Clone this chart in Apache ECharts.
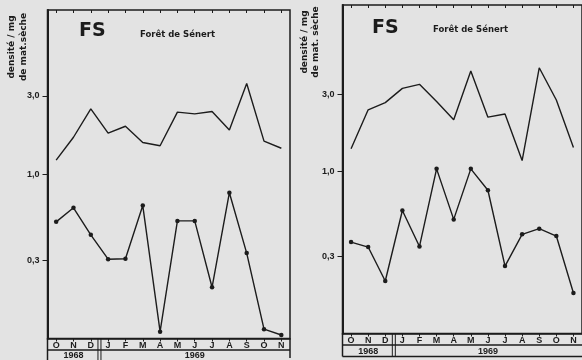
<!DOCTYPE html>
<html><head><meta charset="utf-8">
<script src="https://cdn.jsdelivr.net/npm/echarts@6/dist/echarts.min.js"></script>
<style>html,body{margin:0;padding:0;background:#e3e3e3}#c{width:582px;height:360px}</style>
</head><body><div id="c"></div>
<script>
const months = ['O','N','D','J','F','M','A','M','J','J','A','S','O','N'];
const years = ['1968', '1969'];
const yTicks = [0.3, 1, 3];
const leftUpper  = [1.22, 1.68, 2.50, 1.78, 1.96, 1.56, 1.49, 2.39, 2.33, 2.41, 1.86, 3.57, 1.59, 1.44];
const leftLower  = [0.513, 0.625, 0.428, 0.304, 0.306, 0.645, 0.110, 0.52, 0.52, 0.205, 0.772, 0.331, 0.114, 0.105];
const rightUpper = [1.385, 2.41, 2.67, 3.27, 3.46, 2.71, 2.09, 4.18, 2.17, 2.27, 1.17, 4.38, 2.77, 1.41];
const rightLower = [0.367, 0.342, 0.211, 0.575, 0.345, 1.04, 0.507, 1.04, 0.767, 0.261, 0.41, 0.444, 0.40, 0.178];
const siteCode = 'FS';
const siteName = 'Forêt de Sénert';
const yName1 = 'densité / mg';
const yName2L = 'de mat.sèche';
const yName2R = 'de mat. sèche';

const INK = '#1c1c1c';
const F = 'Liberation Sans, Arial, sans-serif';
const chart = echarts.init(document.getElementById('c'), null, {renderer: 'canvas'});

const grids = [
  {left: 47.5, top: 10, width: 242.5, bottom: 21.5, show: true, borderColor: INK, borderWidth: 1.5},
  {left: 342.5, top: 5, width: 241, bottom: 26.5, show: true, borderColor: INK, borderWidth: 1.5}
];
function xAx(gi, withLabels) {
  return {
    type: 'category', gridIndex: gi, data: months, boundaryGap: true,
    axisLine: {show: withLabels, lineStyle: {color: INK, width: 1.5}},
    axisTick: {show: true, alignWithLabel: true, inside: !withLabels, length: 3, lineStyle: {color: INK, width: 1}},
    axisLabel: {show: withLabels, interval: 0, margin: 3, color: INK, fontFamily: F, fontSize: 9, fontWeight: 'bold'},
    splitLine: {show: false}
  };
}
function yAx(gi, mx) {
  return {
    type: 'log', logBase: 10, gridIndex: gi, min: 0.1, max: mx,
    axisLine: {show: true, lineStyle: {color: INK, width: 2}},
    axisTick: {show: true, length: 5, customValues: yTicks, lineStyle: {color: INK, width: 1}},
    axisLabel: {show: true, margin: 8, customValues: yTicks, color: INK, fontFamily: F, fontSize: 9, fontWeight: 'bold',
      formatter: v => Number(v).toFixed(1).replace('.', ',')},
    minorTick: {show: false}, splitLine: {show: false}
  };
}
function lineS(xi, yi, data, marker) {
  return {
    type: 'line', xAxisIndex: xi, yAxisIndex: yi, data: data,
    showSymbol: marker, symbol: 'circle', symbolSize: 4.5,
    itemStyle: {color: INK}, lineStyle: {color: INK, width: 1.4},
    animation: false, silent: true
  };
}
const titleStyle = {color: INK, fontFamily: 'DejaVu Sans, sans-serif', fontWeight: 'bold'};
chart.setOption({
  backgroundColor: '#e3e3e3',
  animation: false,
  title: [
    {text: siteCode, left: 79, top: 22, padding: 0, textStyle: Object.assign({fontSize: 19}, titleStyle)},
    {text: siteName, left: 140, top: 30, padding: 0, textStyle: Object.assign({fontSize: 8.5}, titleStyle)},
    {text: siteCode, left: 372, top: 19, padding: 0, textStyle: Object.assign({fontSize: 19}, titleStyle)},
    {text: siteName, left: 433, top: 25, padding: 0, textStyle: Object.assign({fontSize: 8.5}, titleStyle)}
  ],
  grid: grids,
  xAxis: [xAx(0, true), xAx(0, false), xAx(1, true), xAx(1, false)],
  yAxis: [yAx(0, 10), yAx(1, 10.7)],
  series: [
    lineS(0, 0, leftUpper, false),
    lineS(0, 0, leftLower, true),
    lineS(2, 1, rightUpper, false),
    lineS(2, 1, rightLower, true)
  ]
});

// frame of the month/year rows, built from the axes' own pixel positions
function frame(gi, xi, rowLine, bottom, yearY, rightX, drawBottom) {
  const g = grids[gi];
  const x0 = g.left;
  const axisY = 360 - g.bottom;
  const px = i => chart.convertToPixel({xAxisIndex: xi}, i);
  const sep = (px(2) + px(3)) / 2;
  const xr = rightX;
  const st = {stroke: INK, lineWidth: 1.5};
  const els = [
    {type: 'line', shape: {x1: x0, y1: axisY, x2: x0, y2: bottom}, style: st},
    {type: 'line', shape: {x1: x0, y1: rowLine, x2: xr, y2: rowLine}, style: st},
    {type: 'line', shape: {x1: sep - 1.5, y1: axisY, x2: sep - 1.5, y2: bottom}, style: {stroke: INK, lineWidth: 1}},
    {type: 'line', shape: {x1: sep + 1.5, y1: axisY, x2: sep + 1.5, y2: bottom}, style: {stroke: INK, lineWidth: 1}},
    {type: 'text', x: (x0 + sep) / 2, y: yearY, style: {text: years[0], fill: INK, font: 'bold 9px ' + F, align: 'center', verticalAlign: 'middle'}},
    {type: 'text', x: (sep + px(13) + (px(13) - px(12)) / 2) / 2, y: yearY, style: {text: years[1], fill: INK, font: 'bold 9px ' + F, align: 'center', verticalAlign: 'middle'}}
  ];
  if (drawBottom) els.push({type: 'line', shape: {x1: x0, y1: bottom, x2: xr, y2: bottom}, style: st});
  else els.push({type: 'line', shape: {x1: xr, y1: axisY, x2: xr, y2: bottom - 2}, style: st});
  return els;
}
function yname(cx1, cx2, cy, l2) {
  const s = t => ({text: t, fill: INK, font: 'bold 9px DejaVu Sans, sans-serif', align: 'center', verticalAlign: 'middle'});
  return [
    {type: 'text', x: cx1, y: cy, rotation: Math.PI / 2, style: s(yName1)},
    {type: 'text', x: cx2, y: cy, rotation: Math.PI / 2, style: s(l2)}
  ];
}
chart.setOption({
  graphic: [].concat(
    frame(0, 0, 350, 360, 355.5, 290, false),
    frame(1, 2, 345, 356.5, 351.5, 582, true),
    yname(12, 24, 47, yName2L),
    yname(305, 316, 42, yName2R)
  )
});
</script></body></html>
